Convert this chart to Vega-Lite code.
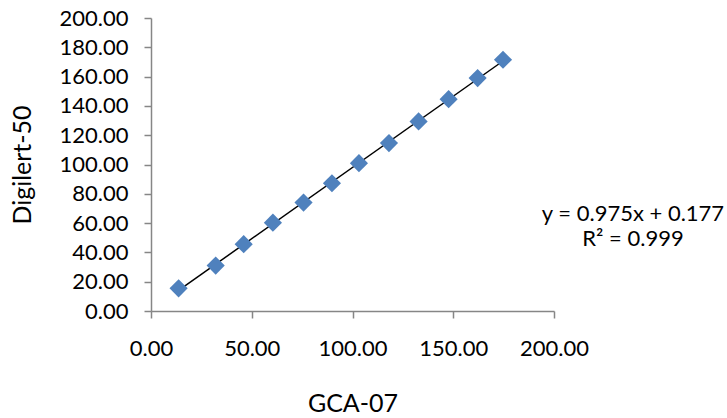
{
  "$schema": "https://vega.github.io/schema/vega-lite/v6.json",
  "autosize": {"type": "none"},
  "padding": {"left": 151, "top": 18, "right": 173, "bottom": 107},
  "width": 403,
  "height": 293,
  "background": "white",
  "config": {
    "view": {"stroke": null},
    "font": "Lato",
    "axis": {
      "grid": false,
      "ticks": true,
      "domainColor": "#868686",
      "domainWidth": 1.5,
      "tickColor": "#868686",
      "tickWidth": 1.5,
      "tickSize": 7,
      "labelOverlap": false,
      "labelFlush": false,
      "labelFont": "Lato",
      "labelFontSize": 22,
      "labelColor": "#000000",
      "titleFont": "Lato",
      "titleFontSize": 25,
      "titleFontWeight": "normal",
      "titleColor": "#000000"
    }
  },
  "datasets": {
    "points": [
      {"gca": 13.7, "dig": 15.5},
      {"gca": 32.1, "dig": 31.0},
      {"gca": 46.0, "dig": 45.6},
      {"gca": 60.5, "dig": 60.3},
      {"gca": 75.7, "dig": 74.0},
      {"gca": 89.8, "dig": 87.2},
      {"gca": 103.2, "dig": 100.9},
      {"gca": 118.1, "dig": 114.6},
      {"gca": 132.8, "dig": 129.4},
      {"gca": 147.7, "dig": 144.6},
      {"gca": 162.1, "dig": 159.0},
      {"gca": 174.7, "dig": 171.5}
    ],
    "labels": [
      {"gca": 239.2, "dig": 61.6, "label": "y = 0.975x + 0.177"},
      {"gca": 239.2, "dig": 44.3, "label": "R² = 0.999"}
    ]
  },
  "encoding": {
    "x": {
      "field": "gca", "type": "quantitative",
      "scale": {"domain": [0, 200], "nice": false, "zero": true},
      "axis": {
        "title": "GCA-07",
        "values": [0, 50, 100, 150, 200],
        "format": ".2f",
        "labelOverlap": false,
        "labelPadding": 20,
        "titlePadding": 32
      }
    },
    "y": {
      "field": "dig", "type": "quantitative",
      "scale": {"domain": [0, 200], "nice": false, "zero": true},
      "axis": {
        "title": "Digilert-50",
        "values": [0, 20, 40, 60, 80, 100, 120, 140, 160, 180, 200],
        "tickCount": 11,
        "format": ".2f",
        "labelOverlap": false,
        "labelPadding": 16,
        "titlePadding": 24
      }
    }
  },
  "layer": [
    {
      "data": {"name": "points"},
      "transform": [{"regression": "dig", "on": "gca"}],
      "mark": {"type": "line", "color": "#000000", "strokeWidth": 1.5}
    },
    {
      "data": {"name": "points"},
      "mark": {"type": "point", "shape": "diamond", "filled": true, "size": 330, "color": "#4F81BD", "opacity": 1}
    },
    {
      "data": {"name": "labels"},
      "mark": {"type": "text", "font": "Lato", "fontSize": 22, "color": "#000000", "align": "center", "baseline": "alphabetic"},
      "encoding": {
        "text": {"field": "label"}
      }
    }
  ]
}
